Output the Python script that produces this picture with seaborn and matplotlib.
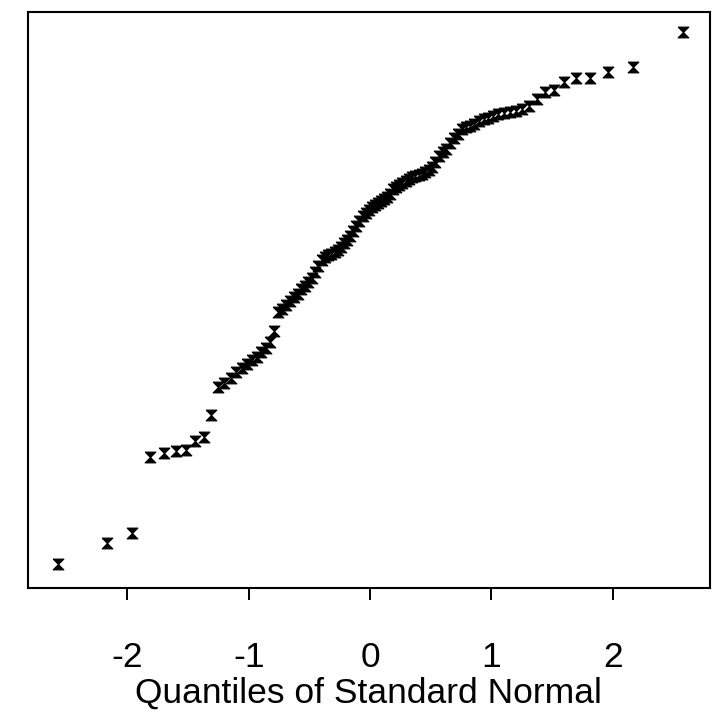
import numpy as np
import pandas as pd
import matplotlib
matplotlib.use("Agg")
import matplotlib.pyplot as plt
import seaborn as sns
from statistics import NormalDist

# Sample values (sorted); y axis carries no labels
sample = [3.6, 5.7, 6.7, 14.3, 14.7, 14.9, 15.0, 15.9, 16.3, 18.5,
          21.3, 21.7, 22.2, 22.8, 23.2, 23.6, 24.0, 24.3, 24.8, 25.2,
          25.8, 26.9, 28.8, 29.1, 29.5, 29.9, 30.3, 30.6, 31.1, 31.4,
          31.8, 32.2, 32.8, 33.4, 34.0, 34.3, 34.5, 34.6, 34.8, 35.0,
          35.3, 35.7, 36.0, 36.4, 36.9, 37.4, 37.9, 38.4, 38.7, 39.0,
          39.3, 39.5, 39.7, 39.9, 40.1, 40.3, 40.6, 41.1, 41.3, 41.5,
          41.7, 41.9, 42.1, 42.3, 42.4, 42.5, 42.6, 42.8, 43.0, 43.3,
          43.8, 44.4, 44.8, 45.1, 45.7, 46.2, 46.6, 47.1, 47.3, 47.4,
          47.6, 47.9, 48.1, 48.2, 48.4, 48.6, 48.7, 48.8, 48.9, 49.1,
          49.4, 50.1, 50.8, 51.0, 51.8, 52.2, 52.2, 52.8, 53.3, 56.8]
x_ticks = [-2, -1, 0, 1, 2]
x_label = "Quantiles of Standard Normal"

# Theoretical quantiles for the sorted sample
n = len(sample)
quantiles = [NormalDist().inv_cdf((i - 0.5) / n) for i in range(1, n + 1)]
df = pd.DataFrame({"q": quantiles, "y": sample})

sns.set_style("white")
plt.rcParams["font.family"] = ["Liberation Sans", "DejaVu Sans"]
plt.rcParams["text.color"] = "black"
plt.rcParams["xtick.color"] = "black"
plt.rcParams["axes.labelcolor"] = "black"

fig = plt.figure(figsize=(7.17, 7.17), dpi=100)
ax = fig.add_axes([0.039, 0.180, 0.951, 0.803])

# hourglass-like marker
hourglass = [(-1, 1), (1, 1), (-1, -1), (1, -1), (-1, 1)]
sns.scatterplot(data=df, x="q", y="y", ax=ax, marker=hourglass, s=60,
                color="black", edgecolor="black", linewidth=0.8)

ax.set_xlim(-2.82, 2.80)
ax.set_ylim(1.2, 58.8)
ax.set_xticks(x_ticks)
ax.set_xticklabels([str(t) for t in x_ticks])
ax.set_yticks([])
ax.set_ylabel("")
ax.set_xlabel(x_label, fontsize=25.5, labelpad=2)
ax.tick_params(axis="x", direction="out", length=8.5, width=1.4,
               color="black", labelcolor="black", pad=30, labelsize=25.5,
               bottom=True)
for sp in ax.spines.values():
    sp.set_visible(True)
    sp.set_color("black")
    sp.set_linewidth(1.5)

fig.savefig("out.png", dpi=100)
